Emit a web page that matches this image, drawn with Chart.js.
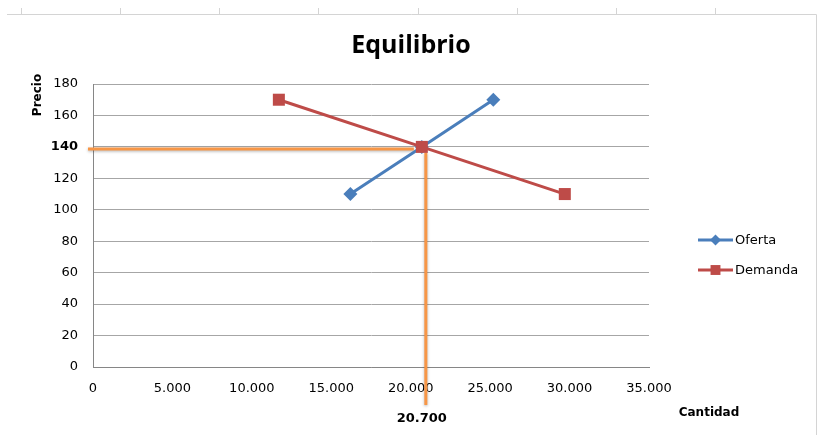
<!DOCTYPE html>
<html>
<head>
<meta charset="utf-8">
<script src="https://cdn.jsdelivr.net/npm/chart.js@4/dist/chart.umd.min.js"></script>
<style>
  html, body { margin: 0; padding: 0; background: #fff; }
  #wrap { width: 819px; height: 435px; position: relative; }
</style>
</head>
<body>
<div id="wrap"><canvas id="equilibrioChart" width="819" height="435"></canvas></div>
<script>
// Datos del grafico
const ofertaCantidad = [16200, 20700, 25200];
const ofertaPrecio = [110, 140, 170];
const demandaCantidad = [11700, 20700, 29700];
const demandaPrecio = [170, 140, 110];
const eqCantidad = 20700;
const eqPrecio = 140;
const xTicks = [0, 5000, 10000, 15000, 20000, 25000, 30000, 35000];
const yTicks = [0, 20, 40, 60, 80, 100, 120, 140, 160, 180];

function miles(v) {
    return String(v).replace(/\B(?=(\d{3})+(?!\d))/g, '.');
}

function toPoints(xs, ys) {
    return xs.map((x, i) => ({ x: x, y: ys[i] }));
}

const azul = '#4a7ebb';
const rojo = '#be4b48';
const naranja = '#f79646';

// Lineas naranjas, textos y leyenda dibujados a mano
const extrasPlugin = {
    id: 'extras',
    beforeDatasetsDraw(chart) {
        const ctx = chart.ctx;
        const xs = chart.scales.x, ys = chart.scales.y;
        const px = xs.getPixelForValue(eqCantidad);
        const py = ys.getPixelForValue(eqPrecio);
        ctx.save();
        ctx.strokeStyle = naranja;
        ctx.lineWidth = 3;
        ctx.shadowColor = 'rgba(0,0,0,0.3)';
        ctx.shadowBlur = 3;
        ctx.shadowOffsetY = 1;
        ctx.beginPath();
        ctx.moveTo(xs.left - 5, py + 2);
        ctx.lineTo(px - 8, py + 2);
        ctx.stroke();
        ctx.beginPath();
        ctx.moveTo(px + 4, py + 6);
        ctx.lineTo(px + 4, chart.chartArea.bottom + 38);
        ctx.stroke();
        ctx.restore();
    },
    afterDraw(chart) {
        const ctx = chart.ctx;
        const xs = chart.scales.x;
        ctx.save();
        // marco de la hoja
        ctx.strokeStyle = '#d4d4d4';
        ctx.lineWidth = 1;
        ctx.beginPath();
        ctx.moveTo(7, 14.5); ctx.lineTo(816.5, 14.5); ctx.lineTo(816.5, 435);
        [21, 120, 219, 318, 418, 517, 616, 715].forEach(function(x) {
            ctx.moveTo(x + 0.5, 8); ctx.lineTo(x + 0.5, 14);
        });
        ctx.stroke();

        ctx.fillStyle = '#000';
        ctx.textAlign = 'center';
        ctx.textBaseline = 'middle';
        ctx.font = 'bold 25px "Open Sans"';
        ctx.fillText('Equilibrio', 411, 46);

        ctx.font = 'bold 12px "DejaVu Sans"';
        ctx.fillText('Cantidad', 709, 413);

        ctx.font = 'bold 13px "DejaVu Sans"';
        ctx.fillText(miles(eqCantidad), xs.getPixelForValue(eqCantidad), 419);

        ctx.save();
        ctx.translate(38, 95);
        ctx.rotate(-Math.PI / 2);
        ctx.font = 'bold 12px "DejaVu Sans"';
        ctx.fillText('Precio', 0, 0);
        ctx.restore();

        // leyenda
        const items = [
            { text: 'Oferta', color: azul, y: 240, style: 'rectRot', r: 5.5 },
            { text: 'Demanda', color: rojo, y: 270, style: 'rect', r: 7 }
        ];
        items.forEach(function(it) {
            ctx.strokeStyle = it.color;
            ctx.lineWidth = 3;
            ctx.beginPath();
            ctx.moveTo(698, it.y);
            ctx.lineTo(733, it.y);
            ctx.stroke();
            ctx.fillStyle = it.color;
            Chart.helpers.drawPoint(ctx, { pointStyle: it.style, radius: it.r, borderWidth: 0 }, 715.5, it.y);
            ctx.fillStyle = '#000';
            ctx.textAlign = 'left';
            ctx.font = '13px "DejaVu Sans"';
            ctx.fillText(it.text, 735, it.y + 1);
        });
        ctx.restore();
    }
};

const chart = new Chart(document.getElementById('equilibrioChart').getContext('2d'), {
    type: 'scatter',
    data: {
        datasets: [
            {
                label: 'Oferta',
                data: toPoints(ofertaCantidad, ofertaPrecio),
                showLine: true,
                borderColor: azul,
                backgroundColor: azul,
                borderWidth: 3,
                pointStyle: 'rectRot',
                pointRadius: 7,
                pointBorderWidth: 0,
                order: 1
            },
            {
                label: 'Demanda',
                data: toPoints(demandaCantidad, demandaPrecio),
                showLine: true,
                borderColor: rojo,
                backgroundColor: rojo,
                borderWidth: 3,
                pointStyle: 'rect',
                pointRadius: 8.5,
                pointBorderWidth: 0,
                order: 0
            }
        ]
    },
    options: {
        responsive: false,
        animation: false,
        layout: { padding: { top: 84, right: 170, left: 0, bottom: 0 } },
        plugins: {
            legend: { display: false },
            title: { display: false },
            tooltip: { enabled: false }
        },
        scales: {
            x: {
                type: 'linear',
                min: xTicks[0],
                max: xTicks[xTicks.length - 1],
                afterBuildTicks(scale) { scale.ticks = xTicks.map(v => ({ value: v })); },
                afterFit(scale) { scale.height = 68; },
                grid: { display: false, drawTicks: false },
                border: { color: '#868686', width: 1 },
                ticks: {
                    padding: 14,
                    color: '#000',
                    font: { family: 'DejaVu Sans', size: 13 },
                    maxRotation: 0,
                    callback: v => miles(v)
                }
            },
            y: {
                type: 'linear',
                min: yTicks[0],
                max: yTicks[yTicks.length - 1],
                afterBuildTicks(scale) { scale.ticks = yTicks.map(v => ({ value: v })); },
                afterFit(scale) { scale.width = 93; },
                grid: { color: '#a6a6a6', lineWidth: 1, drawTicks: false },
                border: { color: '#868686', width: 1 },
                ticks: {
                    padding: 15,
                    color: '#000',
                    font: ctx => ({
                        family: 'DejaVu Sans',
                        size: 13,
                        weight: (ctx.tick && ctx.tick.value === eqPrecio) ? 'bold' : 'normal'
                    }),
                    callback: v => String(v)
                }
            }
        }
    },
    plugins: [extrasPlugin]
});
</script>
</body>
</html>
